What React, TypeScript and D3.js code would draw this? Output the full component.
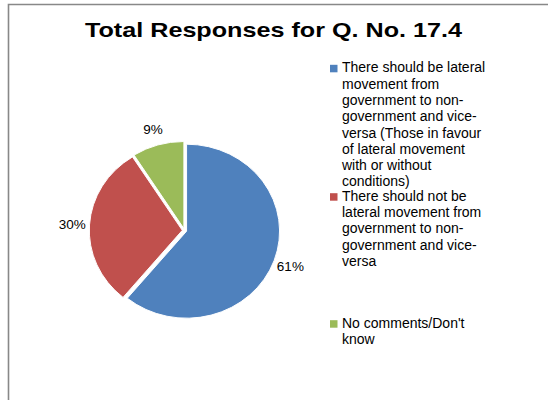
import React from "react";
import * as d3 from "d3";

const title = "Total Responses for Q. No. 17.4";
const categories = [
  "There should be lateral\nmovement from\ngovernment to non-\ngovernment and vice-\nversa (Those in favour\nof lateral movement\nwith or without\nconditions)",
  "There should not be\nlateral movement from\ngovernment to non-\ngovernment and vice-\nversa",
  "No comments/Don't\nknow",
];
const values = [61, 30, 9];
const labels = ["61%", "30%", "9%"];
const colors = ["#4F81BD", "#C0504D", "#9BBB59"];

const W = 548;
const H = 400;
const cx = 184.5;
const cy = 230.5;
const rx = 93;
const ry = 87;
const legendTop = [72.3, 200.7, 327.7];

export default function App() {
  const pie = d3.pie<number>().sort(null).value((d) => d)(values);
  const arc = d3.arc<d3.PieArcDatum<number>>().innerRadius(0).outerRadius(rx);
  const explode = 2.2;
  const lh = 16.3;
  return (
    <svg
      width={W}
      height={H}
      style={{ position: "absolute", left: 0, top: 0, background: "#fff" }}
      fontFamily="'Liberation Sans', Arial, sans-serif"
    >
      <rect x={0} y={0} width={W} height={H} fill="#fff" />
      <path d={`M8.5,${H} V4.5 H${W}`} fill="none" stroke="#888" strokeWidth={1.6} />
      <text
        x={273.5}
        y={36.5}
        textAnchor="middle"
        fontSize={21}
        fontWeight="bold"
        fill="#000"
        textLength={377}
        lengthAdjust="spacingAndGlyphs"
      >
        {title}
      </text>
      <g transform={`translate(${cx},${cy}) scale(1,${ry / rx})`}>
        {pie.map((p, i) => {
          const mid = (p.startAngle + p.endAngle) / 2;
          const dx = Math.sin(mid) * explode;
          const dy = -Math.cos(mid) * explode;
          return (
            <path
              key={i}
              d={arc(p) || ""}
              transform={`translate(${dx},${dy})`}
              fill={colors[i]}
              stroke="#fff"
              strokeWidth={1}
            />
          );
        })}
      </g>
      {pie.map((p, i) => {
        const mid = (p.startAngle + p.endAngle) / 2;
        const k = 1.21;
        const x = cx + Math.sin(mid) * rx * k;
        const y = cy - Math.cos(mid) * ry * k;
        return (
          <text key={i} x={x} y={y + 4.8} textAnchor="middle" fontSize={13.5} fill="#000">
            {labels[i]}
          </text>
        );
      })}
      {categories.map((c, i) => (
        <g key={i}>
          <rect x={330} y={legendTop[i] - 7.5} width={7.5} height={7.5} fill={colors[i]} />
          <text x={342} y={legendTop[i]} fontSize={14} fill="#000">
            {c.split("\n").map((line, j) => (
              <tspan key={j} x={342} y={legendTop[i] + j * lh}>
                {line}
              </tspan>
            ))}
          </text>
        </g>
      ))}
    </svg>
  );
}
